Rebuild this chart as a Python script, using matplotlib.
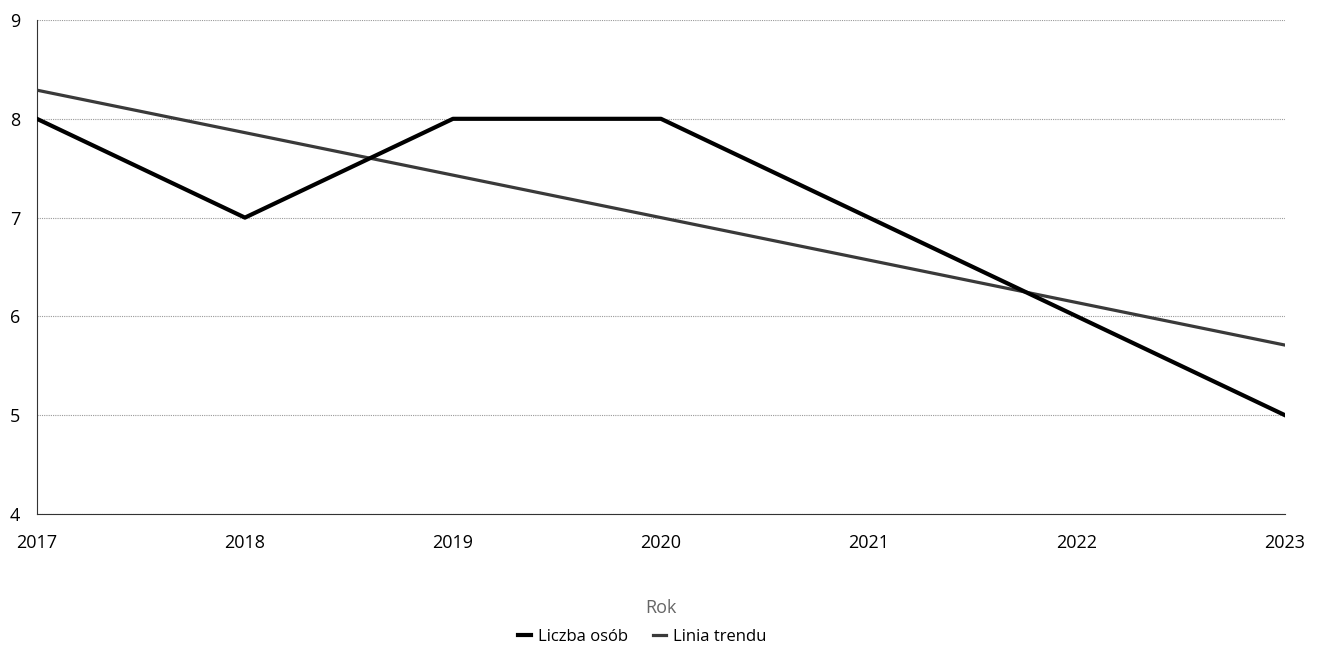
import matplotlib
matplotlib.use('Agg')
import matplotlib.pyplot as plt

plt.rcParams['font.family'] = ['Open Sans', 'DejaVu Sans']

lata = [2017, 2018, 2019, 2020, 2021, 2022, 2023]
liczba_osob = [8, 7, 8, 8, 7, 6, 5]
linia_trendu = [8.29, 7.86, 7.43, 7.0, 6.57, 6.14, 5.71]

fig = plt.figure(figsize=(13.18, 6.45), dpi=100)
ax = fig.add_axes([0.028, 0.203, 0.947, 0.766])

ax.plot(lata, linia_trendu, color='#3a3a3a', lw=2.3, label='Linia trendu', zorder=3)
ax.plot(lata, liczba_osob, color='black', lw=3.0, label='Liczba osób', zorder=4)

ax.set_xlim(2017, 2023)
ax.set_ylim(4, 9)
ax.set_xticks(lata)
ax.set_yticks([4, 5, 6, 7, 8, 9])
ax.tick_params(length=0, labelsize=13)
ax.tick_params(axis='x', pad=14)
ax.tick_params(axis='y', pad=12)
ax.grid(axis='y', color='#999999', lw=0.8, ls=(0, (1, 1)))
for s in ['top', 'right']:
    ax.spines[s].set_visible(False)
ax.spines['left'].set_color('#333333')
ax.spines['bottom'].set_color('#333333')
ax.spines['bottom'].set_linestyle((0, (2, 1)))

ax.set_xlabel('Rok', fontsize=13, color='#666666', labelpad=34)

h, l = ax.get_legend_handles_labels()
fig.legend([h[1], h[0]], [l[1], l[0]], loc='center', bbox_to_anchor=(0.487, 0.013),
           ncol=2, frameon=False, fontsize=12, handlelength=0.8, handletextpad=0.4,
           columnspacing=1.5)

fig.savefig('out.png', dpi=100)
